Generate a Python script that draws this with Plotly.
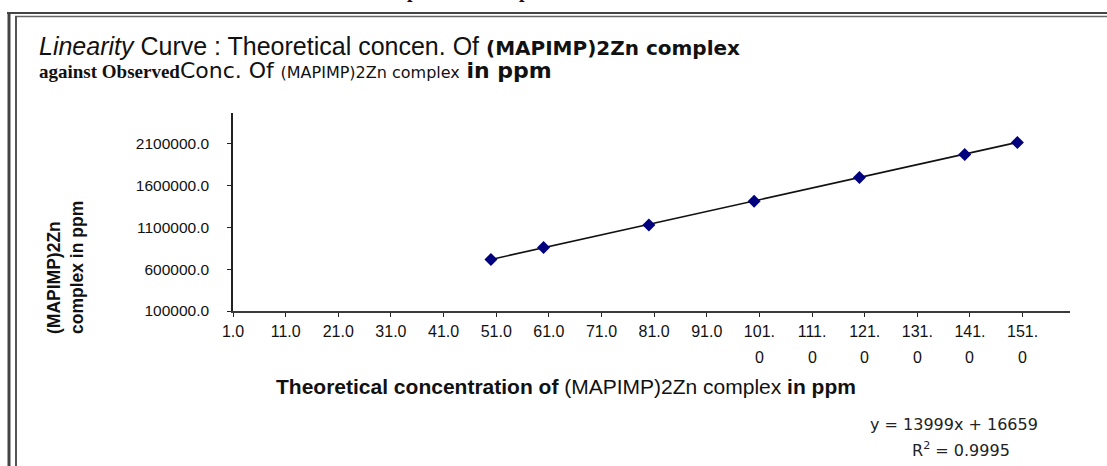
import plotly.graph_objects as go

# ---- data ----
theoretical_ppm = [50, 60, 80, 100, 120, 140, 150]
observed_conc = [716000, 858000, 1130000, 1412000, 1698000, 1972000, 2114000]
trend_slope = 13999
trend_intercept = 16659
r_squared = 0.9995

x_tick_vals = [1, 11, 21, 31, 41, 51, 61, 71, 81, 91, 101, 111, 121, 131, 141, 151]
x_tick_text = ["1.0", "11.0", "21.0", "31.0", "41.0", "51.0", "61.0", "71.0", "81.0", "91.0",
               "101.", "111.", "121.", "131.", "141.", "151."]
x_tick_wrap = ["", "", "", "", "", "", "", "", "", "", "0", "0", "0", "0", "0", "0"]
y_tick_vals = [100000, 600000, 1100000, 1600000, 2100000]
y_tick_text = ["100000.0", "600000.0", "1100000.0", "1600000.0", "2100000.0"]

W, H = 1107, 466


def px(x):
    return x / W


def py(y):
    return 1 - y / H


trend_x = [min(theoretical_ppm), max(theoretical_ppm)]
trend_y = [trend_slope * v + trend_intercept for v in trend_x]

fig = go.Figure()
fig.add_trace(go.Scatter(x=trend_x, y=trend_y, mode="lines",
                         line=dict(color="#111111", width=1.6), hoverinfo="skip",
                         showlegend=False))
fig.add_trace(go.Scatter(x=theoretical_ppm, y=observed_conc, mode="markers",
                         marker=dict(symbol="diamond", size=10, color="#00007F"),
                         showlegend=False))

sans = "Liberation Sans, Arial, sans-serif"
serif = "Liberation Serif, Times New Roman, serif"
dv = "DejaVu Sans, Verdana, sans-serif"

fig.update_layout(
    width=W, height=H, autosize=False,
    margin=dict(l=0, r=0, t=0, b=0, pad=0, autoexpand=False),
    paper_bgcolor="white", plot_bgcolor="white",
    showlegend=False,
    xaxis=dict(
        domain=[px(233), px(1070)],
        range=[1, 160], automargin=False,
        tickmode="array", tickvals=x_tick_vals, ticktext=x_tick_text,
        showgrid=False, zeroline=False,
        showline=True, linecolor="#3a3a3a", linewidth=2,
        ticks="outside", ticklen=4, tickcolor="#222222", tickwidth=1,
        tickfont=dict(family=sans, size=16, color="#111111"),
        ticklabelstandoff=1,
    ),
    yaxis=dict(
        domain=[py(311), py(113)],
        range=[100000, 2468000], automargin=False,
        tickmode="array", tickvals=y_tick_vals, ticktext=y_tick_text,
        showgrid=False, zeroline=False,
        showline=True, linecolor="#222222", linewidth=1.5,
        ticks="outside", ticklen=4, tickcolor="#222222", tickwidth=1,
        tickfont=dict(family=sans, size=15.5, color="#111111"),
        ticklabelstandoff=15,
    ),
)

annotations = [
    # title line 1
    dict(x=px(37), y=py(46), xanchor="left", yanchor="middle",
         text="<i>Linearity</i> Curve : Theoretical concen. Of "
              "<span style=\"font-family:DejaVu Sans,Verdana,sans-serif;font-size:20px;font-weight:bold\">(MAPIMP)2Zn complex</span>",
         font=dict(family=sans, size=25, color="#111111")),
    # title line 2
    dict(x=px(37), y=py(71), xanchor="left", yanchor="middle",
         text="<span style=\"font-family:Liberation Serif,serif;font-size:19px;font-weight:bold\">against Observed</span>"
              "<span style='font-size:22px'>Conc. Of</span> "
              "<span style='font-size:16px'>(MAPIMP)2Zn complex</span> "
              "<b><span style='font-size:22px'>in ppm</span></b>",
         font=dict(family=dv, size=21, color="#111111")),
    # y axis title
    dict(x=px(65), y=py(268), xanchor="center", yanchor="middle", textangle=-90,
         align="left",
         text="<b>(MAPIMP)2Zn<br>complex in ppm</b>",
         font=dict(family=sans, size=17.5, color="#111111")),
    # x axis title
    dict(x=px(566), y=py(386), xanchor="center", yanchor="middle",
         text="<b>Theoretical concentration of</b> "
              "(MAPIMP)2Zn complex <b>in ppm</b>",
         font=dict(family=sans, size=21, color="#111111")),
    # trendline equation
    dict(x=px(954), y=py(424), xanchor="center", yanchor="middle",
         text=f"y = {trend_slope}x + {trend_intercept}",
         font=dict(family=dv, size=16, color="#222222")),
    dict(x=px(961), y=py(449), xanchor="center", yanchor="middle",
         text=f"R<sup>2</sup> = {r_squared}",
         font=dict(family=dv, size=16, color="#222222")),
    # cropped caption descenders at very top
    dict(x=px(412), y=py(4), xanchor="center", yanchor="bottom",
         text="<b>p</b>", font=dict(family=serif, size=20, color="#111111")),
    dict(x=px(524), y=py(4), xanchor="center", yanchor="bottom",
         text="<b>p</b>", font=dict(family=serif, size=20, color="#111111")),
]
for a in annotations:
    a["showarrow"] = False
    a["xref"] = "paper"
    a["yref"] = "paper"

# second line of the wrapped x tick labels
for xv, t in zip(x_tick_vals, x_tick_wrap):
    if t:
        annotations.append(dict(x=xv, y=py(357), xref="x", yref="paper",
                                xanchor="center", yanchor="middle", showarrow=False,
                                text=t, font=dict(family=sans, size=16, color="#111111")))
fig.update_layout(annotations=annotations)

# frame (double border)
shapes = [
    dict(type="line", x0=px(7), x1=1, y0=py(13), y1=py(13), line=dict(color="#444444", width=2.2)),
    dict(type="line", x0=px(15), x1=1, y0=py(16.5), y1=py(16.5), line=dict(color="#666666", width=1.6)),
    dict(type="line", x0=px(9), x1=px(9), y0=0, y1=py(12), line=dict(color="#444444", width=3)),
    dict(type="line", x0=px(16), x1=px(16), y0=0, y1=py(16), line=dict(color="#555555", width=2)),
]
for s in shapes:
    s["xref"] = "paper"
    s["yref"] = "paper"
fig.update_layout(shapes=shapes)

fig.write_html("out.html", config={"displayModeBar": False},
               post_script="document.body.style.margin='0';document.body.style.padding='0';")
